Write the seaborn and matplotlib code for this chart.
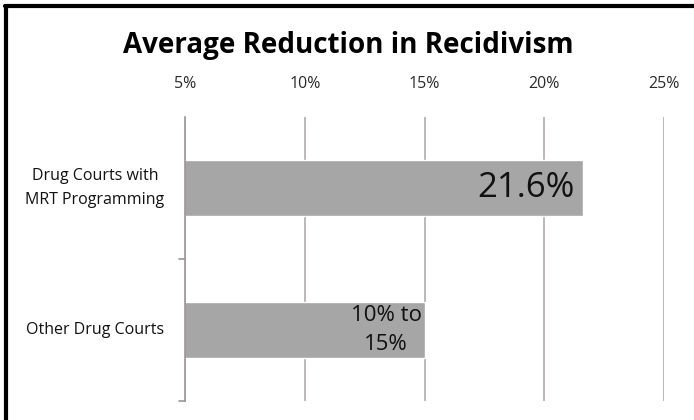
import matplotlib
matplotlib.use("Agg")
import matplotlib.pyplot as plt
import matplotlib.ticker as mticker
from matplotlib.lines import Line2D
import pandas as pd
import seaborn as sns

# --- Data ---
categories = ["Drug Courts with\nMRT Programming", "Other Drug Courts"]
reduction = [21.6, 15.0]
bar_labels = ["21.6%", "10% to\n15%"]
x_ticks = [5, 10, 15, 20, 25]

df = pd.DataFrame({"Group": categories, "Reduction": reduction})

sns.set_style("white")
plt.rcParams["font.family"] = ["Open Sans", "DejaVu Sans"]

fig = plt.figure(figsize=(6.94, 4.2), dpi=100)
ax = fig.add_axes([185 / 694, 1 - 401 / 420, (664 - 185) / 694, (401 - 117) / 420])

sns.barplot(data=df, y="Group", x="Reduction", orient="h", color="#a6a6a6",
            saturation=1, width=0.4, ax=ax, zorder=2)

# --- Axes styling ---
ax.set_xlim(5, 25)
ax.set_ylim(1.5, -0.5)
ax.set_xticks(x_ticks)
ax.xaxis.set_major_formatter(mticker.FuncFormatter(lambda v, p: f"{v:.0f}%"))
ax.xaxis.tick_top()
ax.tick_params(axis="x", length=0, pad=18, labelsize=11.5, colors="#2a2a2a")
ax.set_xlabel("")
ax.set_ylabel("")
ax.grid(axis="x", color="#b3aaaa", linewidth=1.2, zorder=0)

# category labels centred in the left margin
ax.set_yticks([0, 1])
ax.set_yticklabels([])
ax.tick_params(axis="y", length=0)
for i, lab in enumerate(categories):
    ax.text(-90 / 479, i, lab, transform=ax.get_yaxis_transform(), ha="center",
            va="center", fontsize=11.5, color="#111111", linespacing=1.6)
for yb in [0.5, 1.5]:
    ax.plot([-0.012, 0], [yb, yb], transform=ax.get_yaxis_transform(),
            color="#9e9595", lw=1.2, clip_on=False)

for side in ["top", "right", "bottom"]:
    ax.spines[side].set_visible(False)
ax.spines["left"].set_color("#9e9595")
ax.spines["left"].set_linewidth(1.2)

# --- Bar labels ---
ax.text(21.6 - 0.35, 0, bar_labels[0], ha="right", va="center", fontsize=25, color="#111111")
ax.text(13.4, 1, bar_labels[1], ha="center", va="center", fontsize=16,
        color="#111111", linespacing=1.45)

# --- Title ---
fig.text(348 / 694, 1 - 45 / 420, "Average Reduction in Recidivism", ha="center", va="center",
         fontsize=20, fontweight="bold", color="#000000")

# --- Frame (left and top edges) ---
fig.add_artist(Line2D([6 / 694, 6 / 694], [0, 1 - 6 / 420], transform=fig.transFigure,
                      color="black", lw=3))
fig.add_artist(Line2D([5 / 694, 1], [1 - 6 / 420, 1 - 6 / 420], transform=fig.transFigure,
                      color="black", lw=3))

fig.savefig("out.png", dpi=100)
